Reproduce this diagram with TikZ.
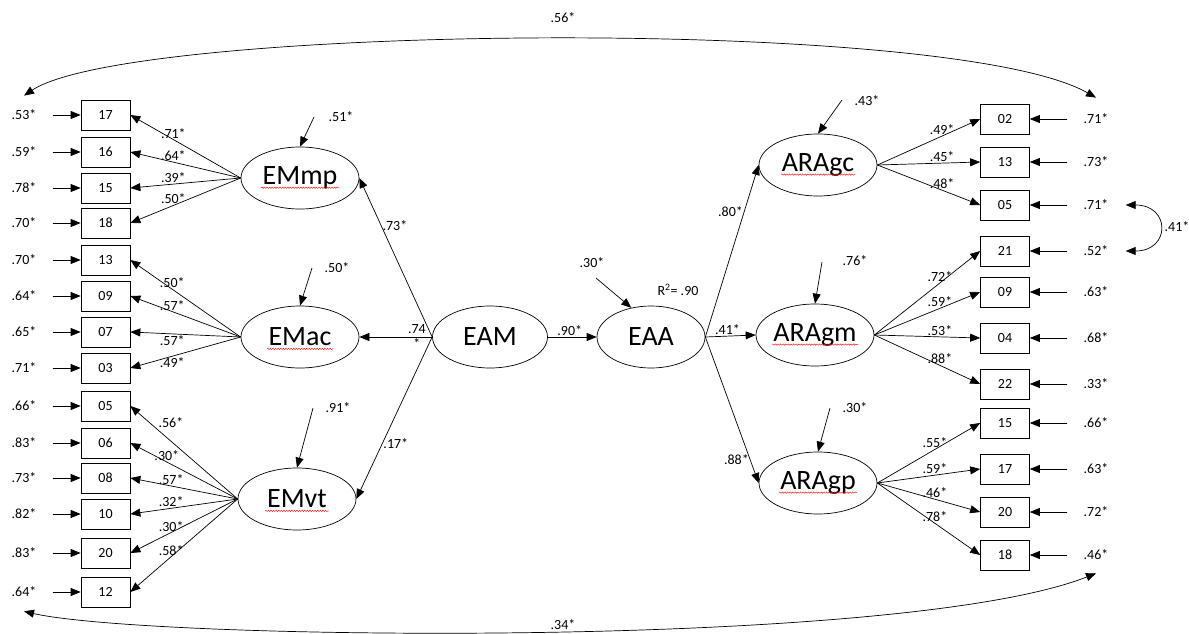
\documentclass[tikz,border=0pt]{standalone}
\usepackage{fontspec}
\setmainfont{Carlito}
\usetikzlibrary{shapes.geometric,arrows.meta,decorations.pathmorphing}
\tikzset{
  item/.style={draw, rectangle, minimum width=49pt, minimum height=30pt, inner sep=0pt, font=\fontsize{14}{15}\selectfont},
  latent/.style={draw, ellipse, minimum width=118pt, minimum height=62pt, inner sep=0pt, font=\fontsize{28}{30}\selectfont},
  est/.style={inner sep=1pt, font=\fontsize{14}{15}\selectfont},
  arr/.style={-{Triangle[length=10pt,width=8pt]}},
  twoarr/.style={{Triangle[length=10pt,width=8pt]}-{Triangle[length=10pt,width=8pt]}},
  spell/.style={red, line width=0.4pt, decorate, decoration={snake, amplitude=0.7pt, segment length=2.6pt}},
}
\begin{document}
\begin{tikzpicture}[x=1pt, y=-1pt, line width=0.7pt]
\useasboundingbox (0,0) rectangle (1189,634);
\node[latent] (EMmp) at (300,178) {EMmp};
\node[latent] (EMac) at (300,337) {EMac};
\node[latent] (EMvt) at (297,499) {EMvt};
\node[latent, minimum width=115pt] (EAM) at (490,337) {EAM};
\node[latent, minimum width=108pt] (EAA) at (651,337) {EAA};
\node[latent] (ARAgc) at (818,165) {ARAgc};
\node[latent] (ARAgm) at (815,335) {ARAgm};
\node[latent] (ARAgp) at (818,483) {ARAgp};
\foreach \n/\w in {EMmp/39, EMac/33, EMvt/32, ARAgc/37, ARAgm/43, ARAgp/39}
  \draw[spell] ([xshift=-\w pt, yshift=-3pt]\n.base) -- ([xshift=\w pt, yshift=-3pt]\n.base);
\foreach \i/\t/\y/\e in {1/17/115/.53*, 2/16/152/.59*, 3/15/188/.78*, 4/18/223/.70*, 5/13/260/.70*, 6/09/296/.64*, 7/07/332/.65*, 8/03/368/.71*, 9/05/406/.66*, 10/06/443/.83*, 11/08/478/.73*, 12/10/514/.82*, 13/20/553/.83*, 14/12/592/.64*} {
  \node[item] (l\i) at (105.5,\y) {\t};
  \node[est] (el\i) at (24,\y) {\e};
  \draw[arr] ([xshift=15pt]el\i.east) -- (l\i.west);
}
\foreach \i/\t/\y/\e in {1/02/119/.71*, 2/13/162/.73*, 3/05/205/.71*, 4/21/251/.52*, 5/09/292/.63*, 6/04/338/.68*, 7/22/384/.33*, 8/15/423/.66*, 9/17/469/.63*, 10/20/512/.72*, 11/18/555/.46*} {
  \node[item] (r\i) at (1005,\y) {\t};
  \node[est] (er\i) at (1096,\y) {\e};
  \draw[arr] ([xshift=-15pt]er\i.west) -- (r\i.east);
}
\foreach \i/\v/\a in {1/.71*/south, 2/.64*/south, 3/.39*/south, 4/.50*/south}
  \draw[arr] (EMmp.west) -- node[est, pos=0.61, anchor=\a] {\v} (l\i.east);
\foreach \i/\v/\a in {5/.50*/south, 6/.57*/south, 7/.57*/north, 8/.49*/north}
  \draw[arr] (EMac.west) -- node[est, pos=0.62, anchor=\a] {\v} (l\i.east);
\foreach \i/\v/\p/\a in {9/.56*/0.75/south west, 10/.30*/0.66/south, 11/.57*/0.62/south, 12/.32*/0.62/south, 13/.30*/0.62/south, 14/.58*/0.62/south}
  \draw[arr] (EMvt.west) -- node[est, pos=\p, anchor=\a] {\v} (l\i.east);
\foreach \i/\v in {1/.49*, 2/.45*, 3/.48*}
  \draw[arr] (ARAgc.east) -- node[est, pos=0.63, anchor=south] {\v} (r\i.west);
\foreach \i/\v in {4/.72*, 5/.59*, 6/.53*, 7/.88*}
  \draw[arr] (ARAgm.east) -- node[est, pos=0.62, anchor=south] {\v} (r\i.west);
\foreach \i/\v in {8/.55*, 9/.59*, 10/.46*, 11/.78*}
  \draw[arr] (ARAgp.east) -- node[est, pos=0.56, anchor=south] {\v} (r\i.west);
\draw[arr] (EAM.west) -- node[est, pos=0.7, anchor=west] {.73*} (EMmp.east);
\draw[arr] (EAM.west) -- node[est, pos=0.21, align=center] {.74\\*} (EMac.east);
\draw[arr] (EAM.west) -- node[est, pos=0.66, anchor=west] {.17*} (EMvt.east);
\draw[arr] (EAM.east) -- node[est, pos=0.45, above] {.90*} (EAA.west);
\draw[arr] (EAA.east) -- node[est, pos=0.73, anchor=east] {.80*} (ARAgc.west);
\draw[arr] (EAA.east) -- node[est, pos=0.44, above] {.41*} (ARAgm.west);
\draw[arr] (EAA.east) -- node[est, pos=0.84, anchor=east] {.88*} (ARAgp.west);
\coordinate (dEMmp) at (314,117);
\coordinate (dEMac) at (312,268);
\coordinate (dEMvt) at (313,408);
\coordinate (dEAA) at (596,278);
\coordinate (dARAgc) at (842,100);
\coordinate (dARAgm) at (822,262);
\coordinate (dARAgp) at (830,408);
\draw[arr] (dEMmp) -- (EMmp.north);
\draw[arr] (dEMac) -- (EMac.north);
\draw[arr] (dEMvt) -- (EMvt.north);
\draw[arr] (dEAA) -- (EAA.124);
\draw[arr] (dARAgc) -- (ARAgc.north);
\draw[arr] (dARAgm) -- (ARAgm.north);
\draw[arr] (dARAgp) -- (ARAgp.north);
\node[est] (zEMmp) at (341,117) {.51*};
\node[est] (zEMac) at (337,268) {.50*};
\node[est] (zEMvt) at (338,408) {.91*};
\node[est] (zEAA) at (592,263) {.30*};
\node[est] (rsq) at (678,290) {R\textsuperscript{2}= .90};
\node[est] (zARAgc) at (867,101) {.43*};
\node[est] (zARAgm) at (855,261) {.76*};
\node[est] (zARAgp) at (855,408) {.30*};
\draw[twoarr] ([yshift=13pt]el1.north) .. controls (130,25) and (950,15) .. ([yshift=15pt]er1.north);
\node[est] (ctop) at (563,18) {.56*};
\draw[twoarr] ([yshift=-13pt]el14.south) .. controls (150,640) and (900,650) .. ([yshift=-12pt]er11.south);
\node[est] (cbot) at (563,625) {.34*};
\draw[twoarr] ([xshift=16pt]er3.east) .. controls +(45,0) and +(45,0) .. ([xshift=16pt]er4.east);
\node[est] (cright) at (1177,227) {.41*};
\end{tikzpicture}
\end{document}
